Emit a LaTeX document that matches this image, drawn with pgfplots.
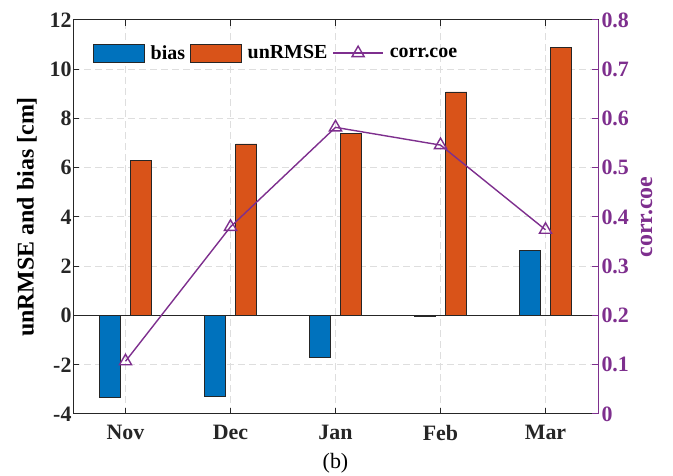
\documentclass[border=0pt]{standalone}
\usepackage{pgfplots}
\pgfplotsset{compat=1.18}
\usepackage{fontspec}
\setmainfont{Liberation Serif}
\definecolor{cbias}{RGB}{0,114,189}
\definecolor{crmse}{RGB}{217,83,25}
\definecolor{ccorr}{RGB}{126,47,142}
\definecolor{cgrid}{RGB}{222,222,222}
\definecolor{caxis}{RGB}{38,38,38}
\pgfplotsset{mylegline/.style={legend image code/.code={\draw[mark repeat=2,mark phase=2,##1] plot coordinates {(0bp,0bp) (25bp,0bp) (50bp,0bp)};}}}
\begin{document}
\begin{tikzpicture}[x=1bp,y=1bp]
\useasboundingbox (0,0) rectangle (673,476);
\begin{axis}[
  at={(73bp,62bp)}, anchor=south west, scale only axis,
  width=525bp, height=394bp,
  xmin=0.5, xmax=5.5, ymin=-4, ymax=12,
  xtick={1,2,3,4,5}, xticklabels={Nov,Dec,Jan,Feb,Mar},
  ytick={-4,-2,0,2,4,6,8,10,12},
  yticklabels={-4,-2,0,2,4,6,8,10,12},
  tick align=inside, xtick pos=both, ytick pos=left,
  major tick length=6bp,
  grid=major,
  major grid style={cgrid, dash pattern=on 7bp off 4bp, line width=1bp},
  axis line style={caxis, line width=1bp},
  tick style={caxis, line width=1bp},
  tick label style={font=\fontsize{22}{24}\selectfont\bfseries, text=caxis},
  xticklabel style={yshift=-8bp},
  yticklabel style={xshift=2bp},
  ylabel={unRMSE and bias [cm]},
  ylabel style={font=\fontsize{24}{26}\selectfont\bfseries, text=black, yshift=6bp},
  xlabel={(b)},
  xlabel style={font=\fontsize{22}{24}\selectfont, text=black, yshift=-6bp},
]
\draw[caxis, line width=0.8bp] (axis cs:0.5,0) -- (axis cs:5.5,0);
\addplot[ybar, bar width=0.2, bar shift=-0.15, fill=cbias, draw=caxis, line width=0.6bp]
  coordinates {(1,-3.31) (2,-3.28) (3,-1.70) (4,-0.05) (5,2.65)};
\addplot[ybar, bar width=0.2, bar shift=0.15, fill=crmse, draw=caxis, line width=0.6bp]
  coordinates {(1,6.29) (2,6.97) (3,7.41) (4,9.08) (5,10.89)};
\end{axis}
\begin{axis}[
  at={(73bp,62bp)}, anchor=south west, scale only axis,
  width=525bp, height=394bp,
  xmin=0.5, xmax=5.5, ymin=0, ymax=0.8,
  axis x line=none, axis y line*=right,
  ytick={0,0.1,0.2,0.3,0.4,0.5,0.6,0.7,0.8},
  yticklabels={0,0.1,0.2,0.3,0.4,0.5,0.6,0.7,0.8},
  tick align=inside, major tick length=6bp,
  y axis line style={ccorr, line width=1bp, -},
  ytick style={ccorr, line width=1bp},
  yticklabel style={font=\fontsize{22}{24}\selectfont\bfseries, text=ccorr},
  ylabel={corr.coe},
  ylabel style={font=\fontsize{24}{26}\selectfont\bfseries, text=ccorr, yshift=-5bp},
  legend columns=3,
  legend style={at={(0.038,0.94)}, anchor=north west, draw=none, fill=none,
    font=\fontsize{20}{22}\selectfont\bfseries, inner sep=0pt,
    nodes={inner sep=0pt},
    /tikz/every even column/.append style={column sep=5bp},
    /tikz/every odd column/.append style={column sep=6bp}},
  legend cell align=left,
  mylegline,
]
\addlegendimage{legend image code/.code={\draw[fill=cbias,draw=caxis,line width=0.6bp] (0bp,-9bp) rectangle (51bp,9bp);}}
\addlegendentry{bias}
\addlegendimage{legend image code/.code={\draw[fill=crmse,draw=caxis,line width=0.6bp] (0bp,-9bp) rectangle (51bp,9bp);}}
\addlegendentry{unRMSE}
\addplot[ccorr, line width=1.4bp, mark=triangle, mark size=7bp]
  coordinates {(1,0.107) (2,0.380) (3,0.582) (4,0.546) (5,0.374)};
\addlegendentry{corr.coe}
\end{axis}
\end{tikzpicture}
\end{document}
